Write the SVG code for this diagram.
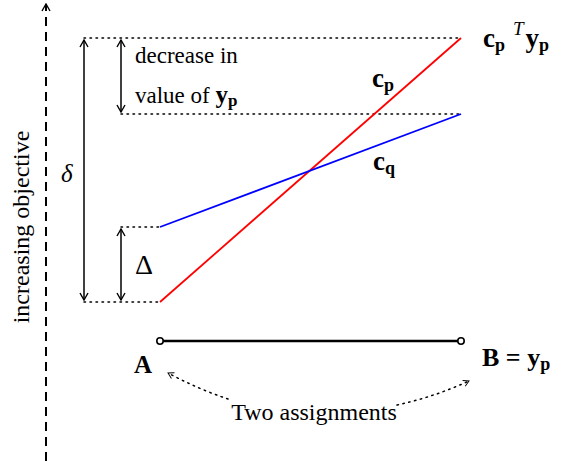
<svg xmlns="http://www.w3.org/2000/svg" width="574" height="461" viewBox="0 0 574 461">
<style>
text{font-family:'Liberation Serif','Times New Roman',Times,serif;fill:#000}
.b{font-weight:bold}
.dot{stroke:#000;stroke-width:1.5;stroke-dasharray:1.5 4.5;fill:none;stroke-linecap:round}
.ln{stroke:#000;stroke-width:1.5;fill:none}
</style>
<defs>
<marker id="ah" viewBox="0 0 10 10" refX="9" refY="5" markerWidth="10" markerHeight="10" markerUnits="userSpaceOnUse" orient="auto-start-reverse">
<path d="M2,1 L9,5 L2,9" fill="none" stroke="#000" stroke-width="1.4"/>
</marker>
<marker id="ahs" viewBox="0 0 10 10" refX="9" refY="5" markerWidth="8" markerHeight="8" markerUnits="userSpaceOnUse" orient="auto">
<path d="M2,1 L9,5 L2,9" fill="none" stroke="#000" stroke-width="1.2"/>
</marker>
</defs>
<g id="axis">
<line x1="46" y1="461" x2="46" y2="4" stroke="#000" stroke-width="2" stroke-dasharray="9 6" marker-end="url(#ah)"/>
<text transform="translate(29,227) rotate(-90)" font-size="24" text-anchor="middle">increasing objective</text>
</g>
<g id="connectors">
<line class="dot" x1="84" y1="38" x2="461" y2="38"/>
<line class="dot" x1="121" y1="114" x2="461" y2="114"/>
<line class="dot" x1="121" y1="227" x2="160" y2="227"/>
<line class="dot" x1="84" y1="302" x2="160" y2="302"/>
<line class="ln" x1="84" y1="40" x2="84" y2="300" marker-start="url(#ah)" marker-end="url(#ah)"/>
<line class="ln" x1="121" y1="40" x2="121" y2="112" marker-start="url(#ah)" marker-end="url(#ah)"/>
<line class="ln" x1="121" y1="229" x2="121" y2="300" marker-start="url(#ah)" marker-end="url(#ah)"/>
<line x1="160" y1="302" x2="461" y2="38" stroke="#ff0000" stroke-width="1.8"/>
<line x1="160" y1="227" x2="461" y2="114" stroke="#0000ff" stroke-width="1.8"/>
<line x1="160" y1="341" x2="461" y2="341" stroke="#000" stroke-width="2.5"/>
<path class="dot" d="M228,399 Q198,389 168,373" marker-end="url(#ahs)"/>
<path class="dot" d="M397,405 Q434,397 469,381" marker-end="url(#ahs)"/>
</g>
<g id="A-node">
<circle cx="160" cy="341" r="3.2" fill="#fff" stroke="#000" stroke-width="1.6"/>
<text class="b" x="134" y="373" font-size="25">A</text>
</g>
<g id="B-node">
<circle cx="461" cy="341" r="3.2" fill="#fff" stroke="#000" stroke-width="1.6"/>
<text class="b" x="482" y="366" font-size="26">B = y<tspan font-size="18" dy="4">p</tspan></text>
</g>
<g id="labels">
<text x="314" y="420" font-size="24" text-anchor="middle">Two assignments</text>
<text x="135" y="63" font-size="23">decrease in</text>
<text x="135" y="103" font-size="23">value of <tspan class="b" font-size="25">y</tspan><tspan class="b" font-size="17" dy="3">p</tspan></text>
<text x="61" y="182" font-size="25" font-style="italic">δ</text>
<text x="135" y="274" font-size="28">Δ</text>
<text class="b" x="372" y="87" font-size="27">c<tspan font-size="18" dy="4">p</tspan></text>
<text class="b" x="373" y="170" font-size="27">c<tspan font-size="18" dy="4">q</tspan></text>
<text class="b" x="483" y="47" font-size="27">c<tspan font-size="18" dy="4">p</tspan><tspan font-weight="normal" font-style="italic" font-size="19" dx="8" dy="-16">T</tspan><tspan dx="2" dy="12">y</tspan><tspan font-size="18" dy="4">p</tspan></text>
</g>
</svg>
